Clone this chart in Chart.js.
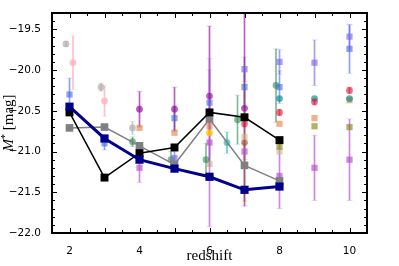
<!DOCTYPE html>
<html lang="en">
<head>
    <meta charset="UTF-8">
    <title>M* vs redshift</title>
    <script src="https://cdn.jsdelivr.net/npm/chart.js"></script>
    <style>
        html, body { margin: 0; padding: 0; background: #fff; }
        canvas { display: block; }
    </style>
</head>
<body>
    <canvas id="grafica" width="399" height="266"></canvas>

    <script>
        // lineas principales
        var mainZ = [2, 3, 4, 5, 6, 7, 8];
        var navyMag = [-20.45, -20.84, -21.10, -21.21, -21.31, -21.47, -21.43];
        var blackMag = [-20.52, -21.32, -21.02, -20.95, -20.52, -20.58, -20.86];
        var grayMag = [-20.71, -20.70, -20.93, -21.16, -20.60, -21.17, -21.36];

        // puntos de la literatura (z, magnitud, error)
        var silverZ = [1.9, 2.9, 3.8];
        var silverMag = [-19.68, -20.21, -20.71];
        var silverErr = [0.03, 0.05, 0.08];

        var pinkZ = [2.1, 3.0];
        var pinkMag = [-19.91, -20.38];
        var pinkErr = [0.33, 0.19];

        var blueZ = [2, 3, 5, 6, 7, 8, 10];
        var blueMag = [-20.30, -20.90, -20.59, -20.40, -20.21, -20.21, -19.74];
        var blueErr = [0.2, 0.08, 0.15, 0.4, 0.25, 0.2, 0.3];

        var violetZ = [5, 7, 8, 9, 10];
        var violetMag = [-21.08, -19.99, -19.90, -19.91, -19.59];
        var violetErr = [0.08, 0.15, 0.15, 0.28, 0.14];

        var purpleZ = [4, 5, 6, 7];
        var purpleMag = [-20.48, -20.48, -20.32, -20.47];
        var purpleErr = [0.22, 0.27, 0.86, 1.2];

        var orchidZ = [4, 6, 7, 8, 9, 10];
        var orchidMag = [-21.20, -20.89, -21.00, -21.30, -21.20, -21.10];
        var orchidErr = [0.18, 1.03, 0.1, 0.4, 0.4, 0.5];

        var greenZ = [3.8, 4.9, 5.9, 6.8, 7.9];
        var greenMag = [-20.88, -21.10, -21.10, -20.61, -20.19];
        var greenErr = [0.06, 0.1, 0.2, 0.3, 0.45];

        var cyanZ = [6.5];
        var cyanMag = [-20.89];
        var cyanErr = [0.13];

        var redZ = [7, 8, 9, 10];
        var redMag = [-20.66, -20.52, -20.39, -20.25];
        var redErr = [0.04, 0.04, 0.04, 0.04];

        var tealZ = [8, 9, 10];
        var tealMag = [-20.35, -20.35, -20.35];

        var orangeZ = [4, 5, 6, 8, 9, 10];
        var orangeMag = [-20.71, -20.77, -20.69, -20.66, -20.59, -20.37];

        var oliveZ = [8, 9, 10];
        var oliveMag = [-20.94, -20.69, -20.70];

        var tanZ = [6, 7, 8];
        var tanMag = [-21.15, -20.82, -21.00];

        var brownZ = [7];
        var brownMag = [-20.89];
        var brownErr = [0.72];

        var goldZ = [6];
        var goldMag = [-20.77];

        function puntos(zs, mags) {
            return zs.map(function (z, i) { return { x: z, y: mags[i] }; });
        }

        function linea(label, mags, color, ancho, r) {
            return {
                label: label,
                data: puntos(mainZ, mags),
                showLine: true,
                borderColor: color,
                borderWidth: ancho,
                pointStyle: 'rect',
                pointRadius: r,
                pointBackgroundColor: color,
                pointBorderColor: color,
                pointBorderWidth: 0
            };
        }

        function lit(label, zs, mags, errs, color, estilo) {
            return {
                label: label,
                data: puntos(zs, mags),
                errs: errs || null,
                showLine: false,
                pointStyle: estilo,
                pointRadius: estilo === 'rect' ? 4.4 : 3.4,
                pointBackgroundColor: color,
                pointBorderWidth: 0,
                borderColor: color,
                backgroundColor: color
            };
        }

        // barras de error verticales
        var barrasError = {
            id: 'barrasError',
            beforeDatasetsDraw: function (chart) {
                var ctx = chart.ctx, a = chart.chartArea;
                var sx = chart.scales.x, sy = chart.scales.y;
                ctx.save();
                ctx.beginPath();
                ctx.rect(a.left, a.top, a.right - a.left, a.bottom - a.top);
                ctx.clip();
                chart.data.datasets.forEach(function (ds) {
                    if (!ds.errs) return;
                    ds.data.forEach(function (p, i) {
                        var px = sx.getPixelForValue(p.x);
                        var y1 = sy.getPixelForValue(p.y + ds.errs[i]);
                        var y2 = sy.getPixelForValue(p.y - ds.errs[i]);
                        ctx.strokeStyle = ds.borderColor;
                        ctx.lineWidth = 1.7;
                        ctx.beginPath();
                        ctx.moveTo(px, y1);
                        ctx.lineTo(px, y2);
                        ctx.stroke();
                        ctx.globalAlpha = 0.35;
                        ctx.lineWidth = 1;
                        ctx.beginPath();
                        ctx.moveTo(px - 3, y1); ctx.lineTo(px + 3, y1);
                        ctx.moveTo(px - 3, y2); ctx.lineTo(px + 3, y2);
                        ctx.stroke();
                        ctx.globalAlpha = 1;
                    });
                });
                ctx.restore();
            }
        };

        // marco, ticks hacia dentro y titulos
        var marco = {
            id: 'marco',
            afterDraw: function (chart) {
                var ctx = chart.ctx, a = chart.chartArea;
                var sx = chart.scales.x, sy = chart.scales.y;
                ctx.save();
                ctx.strokeStyle = '#000';
                ctx.lineWidth = 1;
                ctx.beginPath();
                for (var v = 2; v <= 10; v += 0.5) {
                    var px = Math.round(sx.getPixelForValue(v)) + 0.5;
                    var len = Number.isInteger(v) ? 5 : 3;
                    ctx.moveTo(px, a.bottom); ctx.lineTo(px, a.bottom - len);
                    ctx.moveTo(px, a.top); ctx.lineTo(px, a.top + len);
                }
                for (var i = -219; i <= -194; i++) {
                    var py = Math.round(sy.getPixelForValue(i / 10)) + 0.5;
                    var l = (i % 5 === 0) ? 5 : 3;
                    ctx.moveTo(a.left, py); ctx.lineTo(a.left + l, py);
                    ctx.moveTo(a.right, py); ctx.lineTo(a.right - l, py);
                }
                ctx.stroke();
                ctx.lineWidth = 2;
                ctx.strokeRect(a.left, a.top, a.right - a.left, a.bottom - a.top);

                // titulo eje x
                ctx.fillStyle = '#000';
                ctx.font = '15px "Liberation Serif"';
                ctx.textAlign = 'center';
                ctx.textBaseline = 'alphabetic';
                ctx.fillText('redshift', (a.left + a.right) / 2, 260);

                // titulo eje y: M* [mag]
                var fM = 'italic 15px "Liberation Serif"';
                var fS = '10px "Liberation Serif"';
                var fT = '15px "Liberation Serif"';
                ctx.font = fM; var wM = ctx.measureText('M').width;
                ctx.font = fS; var wS = ctx.measureText('*').width;
                ctx.font = fT; var wT = ctx.measureText(' [mag]').width;
                var total = wM + wS + wT;
                ctx.translate(13, (a.top + a.bottom) / 2);
                ctx.rotate(-Math.PI / 2);
                ctx.textAlign = 'left';
                var x0 = -total / 2;
                ctx.font = fM; ctx.fillText('M', x0, 0);
                ctx.font = fS; ctx.fillText('*', x0 + wM, -5);
                ctx.font = fT; ctx.fillText(' [mag]', x0 + wM + wS, 0);
                ctx.restore();
            }
        };

        var ctx = document.getElementById('grafica').getContext('2d');
        var grafica = new Chart(ctx, {
            type: 'scatter',
            data: {
                datasets: [
                    linea('navy', navyMag, '#00008B', 3, 5.8),
                    linea('black', blackMag, '#000000', 1.5, 5.6),
                    linea('gray', grayMag, '#808080', 1.5, 5.4),
                    lit('silver', silverZ, silverMag, silverErr, 'rgba(175,175,175,0.7)', 'circle'),
                    lit('pink', pinkZ, pinkMag, pinkErr, 'rgba(255,182,193,0.85)', 'circle'),
                    lit('blue', blueZ, blueMag, blueErr, 'rgba(65,105,225,0.6)', 'rect'),
                    lit('violet', violetZ, violetMag, violetErr, 'rgba(123,104,238,0.65)', 'rect'),
                    lit('purple', purpleZ, purpleMag, purpleErr, 'rgba(148,10,160,0.65)', 'circle'),
                    lit('orchid', orchidZ, orchidMag, orchidErr, 'rgba(186,85,211,0.7)', 'rect'),
                    lit('green', greenZ, greenMag, greenErr, 'rgba(46,139,87,0.6)', 'circle'),
                    lit('cyan', cyanZ, cyanMag, cyanErr, 'rgba(32,178,170,0.65)', 'circle'),
                    lit('red', redZ, redMag, redErr, 'rgba(220,20,60,0.6)', 'circle'),
                    lit('teal', tealZ, tealMag, null, 'rgba(0,139,139,0.65)', 'circle'),
                    lit('orange', orangeZ, orangeMag, null, 'rgba(230,126,60,0.6)', 'rect'),
                    lit('olive', oliveZ, oliveMag, null, 'rgba(128,128,0,0.6)', 'rect'),
                    lit('tan', tanZ, tanMag, null, 'rgba(210,180,140,0.6)', 'rect'),
                    lit('brown', brownZ, brownMag, brownErr, 'rgba(160,82,45,0.6)', 'circle'),
                    lit('gold', goldZ, goldMag, null, 'rgba(255,200,0,0.85)', 'circle')
                ]
            },
            options: {
                responsive: false,
                animation: false,
                devicePixelRatio: 1,
                layout: { padding: { left: 0, right: 32, top: 13, bottom: 0 } },
                plugins: { legend: { display: false }, tooltip: { enabled: false } },
                scales: {
                    x: {
                        type: 'linear',
                        min: 1.5,
                        max: 10.5,
                        grid: { display: false },
                        border: { display: false },
                        ticks: {
                            stepSize: 2,
                            includeBounds: false,
                            padding: 4,
                            color: '#000',
                            font: { family: 'DejaVu Sans', size: 10.5 },
                            callback: function (v) { return v; }
                        },
                        afterFit: function (s) { s.height = 33; }
                    },
                    y: {
                        type: 'linear',
                        min: -22.0,
                        max: -19.3,
                        grid: { display: false },
                        border: { display: false },
                        ticks: {
                            stepSize: 0.5,
                            includeBounds: false,
                            padding: 3,
                            color: '#000',
                            font: { family: 'DejaVu Sans', size: 10.5 },
                            callback: function (v) { return v.toFixed(1).replace('-', '\u2212'); }
                        },
                        afterFit: function (s) { s.width = 52; }
                    }
                }
            },
            plugins: [barrasError, marco]
        });
    </script>
</body>
</html>
